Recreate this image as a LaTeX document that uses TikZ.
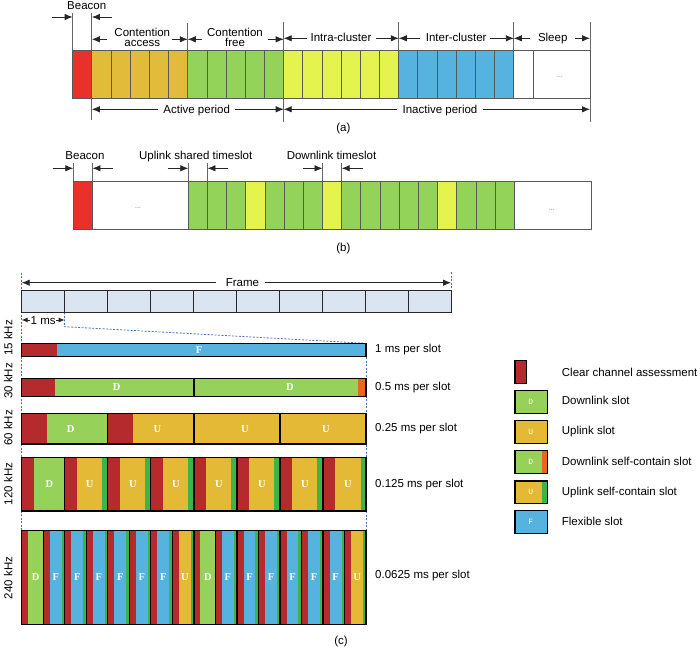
\documentclass[tikz,border=0pt]{standalone}
\usepackage{fontspec}
\setmainfont{Liberation Sans}
\newfontfamily\slotfont{Liberation Serif}
\newfontfamily\legfont{Liberation Mono}
\usetikzlibrary{arrows.meta}
\definecolor{ared}{HTML}{E8312B}
\definecolor{aorange}{HTML}{E2BB3A}
\definecolor{agreen}{HTML}{94D35A}
\definecolor{ayellow}{HTML}{E4F34E}
\definecolor{ablue}{HTML}{56B2DE}
\definecolor{cred}{HTML}{B52A2C}
\definecolor{cyellow}{HTML}{E3B935}
\definecolor{cgreen}{HTML}{96D159}
\definecolor{cstrip}{HTML}{3BB54A}
\definecolor{cblue}{HTML}{56B2DE}
\definecolor{corange}{HTML}{E8671F}
\definecolor{framefill}{HTML}{DBE4F1}
\definecolor{dashblue}{HTML}{4C70B8}
\begin{document}
\begin{tikzpicture}[x=1pt,y=-1pt,
  lbl/.style={font=\fontsize{11.5}{12}\selectfont, inner sep=0pt},
  dim/.style={draw=black!85, line width=0.8pt, -{Latex[length=8pt,width=6.5pt]}},
  smalldim/.style={draw=black!85, line width=0.8pt, -{Latex[length=6pt,width=5pt]}},
  tick/.style={draw=black!60, line width=0.9pt},
  slotA/.style={draw=black!65, line width=0.9pt},
  slotC/.style={draw=black, line width=1.3pt},
  lt/.style={font=\slotfont\bfseries\fontsize{10.5}{10.5}\selectfont, text=white, inner sep=0pt},
  legt/.style={font=\legfont\fontsize{8}{8}\selectfont, text=white, inner sep=0pt},
  dots/.style={font=\fontsize{7}{7}\selectfont, text=black!55, inner sep=0pt},
  dsh/.style={draw=dashblue, line width=0.8pt, dash pattern=on 2pt off 1.5pt},
  framebox/.style={draw=black!85, fill=framefill, line width=1pt}]
\useasboundingbox (0,0) rectangle (700,647);

% ================= (a) =================
\draw[tick] (72.7,13) -- (72.7,50.7);
\draw[tick] (91.88,13) -- (91.88,120);
\draw[tick] (187.78,23) -- (187.78,50.7);
\draw[tick] (283.68,22) -- (283.68,122);
\draw[tick] (398.76,22) -- (398.76,50.7);
\draw[tick] (513.84,22) -- (513.84,50.7);
\draw[tick] (590,22) -- (590,122);

\draw[slotA, fill=ared] (72.7,50.7) rectangle +(19.18,47.6);
\foreach \k in {1,...,5} \draw[slotA, fill=aorange] ({72.7+\k*19.18},50.7) rectangle +(19.18,47.6);
\foreach \k in {6,...,10} \draw[slotA, fill=agreen] ({72.7+\k*19.18},50.7) rectangle +(19.18,47.6);
\foreach \k in {11,...,16} \draw[slotA, fill=ayellow] ({72.7+\k*19.18},50.7) rectangle +(19.18,47.6);
\foreach \k in {17,...,22} \draw[slotA, fill=ablue] ({72.7+\k*19.18},50.7) rectangle +(19.18,47.6);
\draw[slotA, fill=white] (513.84,50.7) rectangle (533.02,98.3);
\draw[slotA, fill=white] (533.02,50.7) rectangle (590,98.3);
\node[dots] (dotsA) at (559.3,77.3) {...};

\node[lbl, anchor=base] (beaconA) at (86.7,9.3) {Beacon};
\draw[dim] (51.7,17) -- (72.7,17);
\draw[dim] (111.7,17) -- (91.88,17);

\node[lbl, anchor=base] (ca1) at (142.3,36.7) {Contention};
\node[lbl, anchor=base] (ca2) at (142.3,46.7) {access};
\draw[dim] (106.7,39.3) -- (91.88,39.3);
\draw[dim] (171.7,39.3) -- (187.78,39.3);
\node[lbl, anchor=base] (cf1) at (235,36.7) {Contention};
\node[lbl, anchor=base] (cf2) at (235,46.7) {free};
\draw[dim] (202,39.3) -- (187.78,39.3);
\draw[dim] (268,39.3) -- (283.68,39.3);

\node[lbl, anchor=base] (intra) at (341,41.7) {Intra-cluster};
\draw[dim] (306.7,38.3) -- (283.68,38.3);
\draw[dim] (376,38.3) -- (398.76,38.3);
\node[lbl, anchor=base] (inter) at (456.2,41.7) {Inter-cluster};
\draw[dim] (420,38.3) -- (398.76,38.3);
\draw[dim] (490,38.3) -- (513.84,38.3);
\node[lbl, anchor=base] (sleep) at (552.7,42) {Sleep};
\draw[dim] (530,38.3) -- (513.84,38.3);
\draw[dim] (575,38.3) -- (590,38.3);

\node[lbl, anchor=base] (active) at (196.7,114) {Active period};
\draw[dim] (158,109.3) -- (91.88,109.3);
\draw[dim] (235,109.3) -- (283.68,109.3);
\node[lbl, anchor=base] (inactive) at (440,114) {Inactive period};
\draw[dim] (397,109.3) -- (283.68,109.3);
\draw[dim] (483,109.3) -- (590,109.3);

\node[lbl, anchor=base] (capa) at (343.3,131.5) {(a)};

% ================= (b) =================
\draw[tick] (73.3,163) -- (73.3,181.7);
\draw[tick] (92.48,163) -- (92.48,181.7);
\draw[tick] (188.3,163) -- (188.3,181.7);
\draw[tick] (207.48,163) -- (207.48,181.7);
\draw[tick] (322.56,163) -- (322.56,181.7);
\draw[tick] (341.74,163) -- (341.74,181.7);

\draw[slotA, fill=ared] (73.3,181.7) rectangle (92.48,229);
\draw[slotA, fill=white] (92.48,181.7) rectangle (188.3,229);
\foreach \k in {0,1,2,4,5,6,8,9,10,11,12,14,15,16}
  \draw[slotA, fill=agreen] ({188.3+\k*19.18},181.7) rectangle +(19.18,47.3);
\foreach \k in {3,7,13}
  \draw[slotA, fill=ayellow] ({188.3+\k*19.18},181.7) rectangle +(19.18,47.3);
\draw[slotA, fill=white] (514.36,181.7) rectangle (591,229);
\node[dots] (dotsB1) at (138,208) {...};
\node[dots] (dotsB2) at (551.7,210) {...};

\node[lbl, anchor=base] (beaconB) at (85,159.5) {Beacon};
\draw[dim] (52.7,168.3) -- (73.3,168.3);
\draw[dim] (112.7,168.3) -- (92.48,168.3);
\node[lbl, anchor=base] (upshared) at (195.7,159.5) {Uplink shared timeslot};
\draw[dim] (167.7,168.3) -- (188.3,168.3);
\draw[dim] (227.7,168.3) -- (207.48,168.3);
\node[lbl, anchor=base] (downts) at (331.5,159.5) {Downlink timeslot};
\draw[dim] (302.7,168.3) -- (322.56,168.3);
\draw[dim] (363,168.3) -- (341.74,168.3);

\node[lbl, anchor=base] (capb) at (343.3,251) {(b)};

% ================= (c) =================
\draw[dsh] (21.7,272.7) -- (21.7,624.3);
\draw[dsh] (451,272) -- (451,290);
\draw[dsh] (64.63,312.3) -- (64.63,326.7) -- (366,343.3);
\draw[dsh] (366,343.3) -- (366,624.3);

\node[lbl, anchor=base] (frame) at (242.5,286.8) {Frame};
\draw[dim] (216,282.7) -- (21.7,282.7);
\draw[dim] (265,282.7) -- (451,282.7);
\foreach \k in {0,...,9} \draw[framebox] ({21.7+\k*42.93},290) rectangle +(42.93,22.3);

\node[lbl, anchor=base] (onems) at (43.2,324.2) {1 ms};
\draw[smalldim] (30,320) -- (21.7,320);
\draw[smalldim] (56,320) -- (64.63,320);

% 15 kHz
\fill[cblue] (21.7,343.3) rectangle (366,356.7);
\fill[cred] (21.7,343.3) rectangle (56.7,356.7);
\draw[slotC] (21.7,343.3) rectangle (366,356.7);
\node[lt] (f15) at (199,350) {F};

% 30 kHz
\fill[cgreen] (21.7,378.3) rectangle (366,396.7);
\fill[cred] (21.7,378.3) rectangle (55,396.7);
\fill[corange] (358.3,378.3) rectangle (366,396.7);
\draw[slotC] (21.7,378.3) rectangle (193.85,396.7);
\draw[slotC] (193.85,378.3) rectangle (366,396.7);
\node[lt] (d30a) at (116.7,387.5) {D};
\node[lt] (d30b) at (290,387.5) {D};

% 60 kHz
\fill[cgreen] (21.7,413.3) rectangle (107.78,444);
\fill[cyellow] (107.78,413.3) rectangle (366,444);
\fill[cred] (21.7,413.3) rectangle (46.7,444);
\fill[cred] (107.78,413.3) rectangle (133.3,444);
\foreach \k in {0,...,3} \draw[slotC] ({21.7+\k*86.075},413.3) rectangle +(86.075,30.7);
\node[lt] (d60) at (70.7,428.7) {D};
\node[lt] (u60a) at (157.3,428.7) {U};
\node[lt] (u60b) at (245,428.7) {U};
\node[lt] (u60c) at (326,428.7) {U};

% 120 kHz
\foreach \k/\col/\sw/\lab in {0/cgreen/0/D,1/cyellow/5.5/U,2/cyellow/5.5/U,3/cyellow/5.5/U,4/cyellow/5.5/U,5/cyellow/5.5/U,6/cyellow/5.5/U,7/cyellow/5.5/U} {
  \fill[\col] ({21.7+\k*43.04},457.7) rectangle +(43.04,53.3);
  \fill[cred] ({21.7+\k*43.04},457.7) rectangle +(12.5,53.3);
  \fill[cstrip] ({21.7+(\k+1)*43.04-\sw},457.7) rectangle ({21.7+(\k+1)*43.04},511);
  \draw[slotC] ({21.7+\k*43.04},457.7) rectangle +(43.04,53.3);
  \node[lt] (s120-\k) at ({21.7+\k*43.04+12.5+(43.04-12.5-\sw)/2},484.4) {\lab};
}

% 240 kHz
\foreach \k/\col/\sw/\lab in {0/cgreen/0/D,1/cblue/3/F,2/cblue/3/F,3/cblue/3/F,4/cblue/3/F,5/cblue/3/F,6/cblue/3/F,7/cyellow/3/U,8/cgreen/0/D,9/cblue/3/F,10/cblue/3/F,11/cblue/3/F,12/cblue/3/F,13/cblue/3/F,14/cblue/3/F,15/cyellow/3/U} {
  \fill[\col] ({21.7+\k*21.52},530.7) rectangle +(21.52,93.6);
  \fill[cred] ({21.7+\k*21.52},530.7) rectangle +(6.6,93.6);
  \fill[cstrip] ({21.7+(\k+1)*21.52-\sw},530.7) rectangle ({21.7+(\k+1)*21.52},624.3);
  \draw[slotC] ({21.7+\k*21.52},530.7) rectangle +(21.52,93.6);
  \node[lt] (s240-\k) at ({21.7+\k*21.52+6.6+(21.52-6.6-\sw)/2},577.5) {\lab};
}

% row labels
\node[lbl, rotate=90] (k15) at (8.3,338) {15 kHz};
\node[lbl, rotate=90] (k30) at (8.3,381) {30 kHz};
\node[lbl, rotate=90] (k60) at (8.3,428) {60 kHz};
\node[lbl, rotate=90] (k120) at (8.3,484) {120 kHz};
\node[lbl, rotate=90] (k240) at (8.3,578) {240 kHz};

% right labels
\node[lbl, anchor=west] (p15) at (375,349.3) {1 ms per slot};
\node[lbl, anchor=west] (p30) at (375,387.7) {0.5 ms per slot};
\node[lbl, anchor=west] (p60) at (375,429) {0.25 ms per slot};
\node[lbl, anchor=west] (p120) at (375,485) {0.125 ms per slot};
\node[lbl, anchor=west] (p240) at (375,576) {0.0625 ms per slot};

% legend
\draw[slotC, fill=cred] (515,360.7) rectangle (526.7,383.3);
\node[lbl, anchor=west] (lg1) at (561.7,372.3) {Clear channel assessment};
\draw[slotC, fill=cgreen] (515,390.7) rectangle (547.7,413.3);
\node[legt] (lgd) at (530.7,402) {D};
\node[lbl, anchor=west] (lg2) at (561.7,400.7) {Downlink slot};
\draw[slotC, fill=cyellow] (515,420.7) rectangle (547.7,443.3);
\node[legt] (lgu) at (530.7,432) {U};
\node[lbl, anchor=west] (lg3) at (561.7,431.7) {Uplink slot};
\fill[cgreen] (515,450.7) rectangle (547.7,473.3);
\fill[corange] (541.7,450.7) rectangle (547.7,473.3);
\draw[slotC] (515,450.7) rectangle (547.7,473.3);
\node[legt] (lgds) at (530.7,462) {D};
\node[lbl, anchor=west] (lg4) at (561.7,461) {Downlink self-contain slot};
\fill[cyellow] (515,481) rectangle (547.7,503.3);
\fill[cstrip] (541.7,481) rectangle (547.7,503.3);
\draw[slotC] (515,481) rectangle (547.7,503.3);
\node[legt] (lgus) at (530.7,492) {U};
\node[lbl, anchor=west] (lg5) at (561.7,492.3) {Uplink self-contain slot};
\draw[slotC, fill=cblue] (515,510.7) rectangle (547.7,533.3);
\node[legt] (lgf) at (530.7,522) {F};
\node[lbl, anchor=west] (lg6) at (561.7,521.7) {Flexible slot};

\node[lbl, anchor=base] (capc) at (341,644) {(c)};
\end{tikzpicture}
\end{document}
